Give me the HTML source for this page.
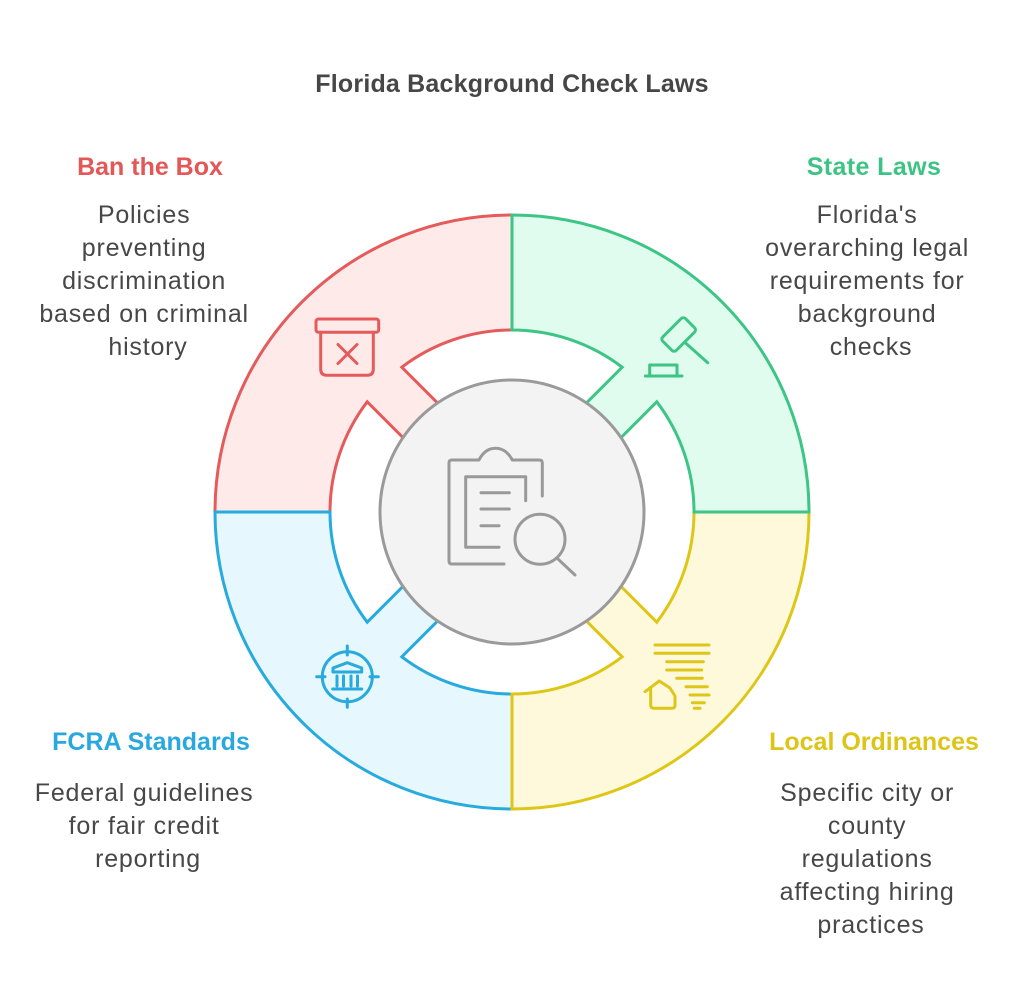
<!DOCTYPE html>
<html>
<head>
<meta charset="utf-8">
<style>
  html, body { margin: 0; padding: 0; background: #ffffff; }
  body { width: 1024px; height: 1008px; overflow: hidden; }
  svg { display: block; }
  .t { font-family: "Liberation Sans", Arial, sans-serif; font-weight: bold; font-size: 25px; }
  .b { font-family: "Liberation Sans", Arial, sans-serif; font-size: 25px; fill: #474747; letter-spacing: 0.8px; }
</style>
</head>
<body>
<svg width="1024" height="1008" viewBox="0 0 1024 1008" xmlns="http://www.w3.org/2000/svg">
  <rect width="1024" height="1008" fill="#ffffff"/>

  <!-- Title -->
  <text class="t" x="512" y="92" text-anchor="middle" fill="#464646" letter-spacing="0.2">Florida Background Check Laws</text>

  <!-- Quadrants -->
  <!-- Red (top-left) -->
  <path d="M512,215 A297,297 0 0 0 215,512 L330,512 A182,182 0 0 1 367.2,401.8 L416.9,451.5 L451.5,416.9 L401.8,367.2 A182,182 0 0 1 512,330 Z"
        fill="#FFEAEA" stroke="#E55A5A" stroke-width="3" stroke-linejoin="miter"/>
  <!-- Blue (bottom-left) -->
  <path d="M512,809 A297,297 0 0 1 215,512 L330,512 A182,182 0 0 0 367.2,622.2 L416.9,572.5 L451.5,607.1 L401.8,656.8 A182,182 0 0 0 512,694 Z"
        fill="#E6F7FD" stroke="#27AADE" stroke-width="3" stroke-linejoin="miter"/>
  <!-- Yellow (bottom-right) -->
  <path d="M512,809 A297,297 0 0 0 809,512 L694,512 A182,182 0 0 1 656.8,622.2 L607.1,572.5 L572.5,607.1 L622.2,656.8 A182,182 0 0 1 512,694 Z"
        fill="#FEF9DB" stroke="#DEC617" stroke-width="3" stroke-linejoin="miter"/>
  <!-- Green (top-right) -->
  <path d="M512,215 A297,297 0 0 1 809,512 L694,512 A182,182 0 0 0 656.8,401.8 L607.1,451.5 L572.5,416.9 L622.2,367.2 A182,182 0 0 0 512,330 Z"
        fill="#E0FCEE" stroke="#3DC586" stroke-width="3" stroke-linejoin="miter"/>

  <!-- Center circle -->
  <circle cx="512" cy="512" r="132" fill="#F3F3F3" stroke="#9A9A9A" stroke-width="3"/>

  <!-- Center icon: clipboard + magnifier -->
  <g fill="none" stroke="#999999" stroke-width="3" stroke-linecap="round" stroke-linejoin="round">
    <path d="M542.3,496 V463 Q542.3,460 539.3,460 H512.3 Q506,448.3 495.6,448.3 Q485,448.3 479,460 H452 Q449,460 449,463 V561 Q449,564 452,564 H504"/>
    <path d="M525.7,500.7 V476.7 H465.7 V547.3 H499"/>
    <line x1="481" y1="492.7" x2="509.3" y2="492.7"/>
    <line x1="481" y1="509" x2="509.3" y2="509"/>
    <line x1="481" y1="525.7" x2="499" y2="525.7"/>
    <circle cx="540" cy="539.3" r="25"/>
    <line x1="558.3" y1="559.3" x2="575" y2="575"/>
  </g>

  <!-- Red icon: box with X -->
  <g fill="none" stroke="#E55A5A" stroke-width="3" stroke-linecap="round" stroke-linejoin="round">
    <rect x="316" y="319" width="62.7" height="13.3" rx="2.5"/>
    <path d="M320.7,332.3 V369.3 Q320.7,375.3 326.7,375.3 H367.3 Q373.3,375.3 373.3,369.3 V332.3"/>
    <line x1="338" y1="344.5" x2="357" y2="363.5"/>
    <line x1="357" y1="344.5" x2="338" y2="363.5"/>
  </g>

  <!-- Green icon: gavel -->
  <g fill="none" stroke="#3DC586" stroke-width="3" stroke-linecap="round" stroke-linejoin="round">
    <rect x="662.7" y="325" width="32" height="19" rx="3" transform="rotate(-45 678.7 334.5)"/>
    <line x1="685.3" y1="342.7" x2="707.7" y2="362.7"/>
    <path d="M649.7,376 V365 H677 V376"/>
    <line x1="645.3" y1="376" x2="682" y2="376"/>
  </g>

  <!-- Yellow icon: house + lines -->
  <g fill="none" stroke="#DEC617" stroke-width="3" stroke-linecap="round" stroke-linejoin="round">
    <line x1="655" y1="645" x2="709" y2="645"/>
    <line x1="655" y1="653.3" x2="709" y2="653.3"/>
    <line x1="666.7" y1="661.7" x2="703.3" y2="661.7"/>
    <line x1="666.7" y1="670" x2="701.7" y2="670"/>
    <line x1="676.7" y1="678.3" x2="702.3" y2="678.3"/>
    <line x1="686" y1="686.7" x2="707.3" y2="686.7"/>
    <line x1="690" y1="695" x2="709" y2="695"/>
    <line x1="692.3" y1="702.7" x2="704.3" y2="702.7"/>
    <line x1="694.3" y1="708.3" x2="700" y2="708.3"/>
    <path d="M645,691.7 L659.3,681 L670,688 L675,696 V705 Q675,708.3 672,708.3 H654 Q650.7,708.3 650.7,705 V687.5"/>
  </g>

  <!-- Blue icon: building in target -->
  <g fill="none" stroke="#27AADE" stroke-width="3" stroke-linecap="round" stroke-linejoin="round">
    <circle cx="347.3" cy="676.7" r="25"/>
    <line x1="347.3" y1="646" x2="347.3" y2="655"/>
    <line x1="347.3" y1="699" x2="347.3" y2="707.3"/>
    <line x1="316.7" y1="676.7" x2="325" y2="676.7"/>
    <line x1="370" y1="676.7" x2="378.3" y2="676.7"/>
    <path d="M333,672 V668 L347.3,662.7 L361.7,668 V672 Z"/>
    <line x1="337" y1="676" x2="337" y2="686"/>
    <line x1="343.5" y1="676" x2="343.5" y2="686"/>
    <line x1="351" y1="676" x2="351" y2="686"/>
    <line x1="357.5" y1="676" x2="357.5" y2="686"/>
    <line x1="332.7" y1="689" x2="361.7" y2="689"/>
  </g>

  <!-- Ban the Box -->
  <text class="t" x="150" y="175" text-anchor="middle" fill="#E35757">Ban the Box</text>
  <text class="b" text-anchor="middle">
    <tspan x="148" y="223">Policies</tspan>
    <tspan x="148" y="256">preventing</tspan>
    <tspan x="148" y="289">discrimination</tspan>
    <tspan x="148" y="322">based on criminal</tspan>
    <tspan x="148" y="355">history</tspan>
  </text>

  <!-- State Laws -->
  <text class="t" x="874" y="175" text-anchor="middle" fill="#3DC384" letter-spacing="0.4">State Laws</text>
  <text class="b" text-anchor="middle">
    <tspan x="871" y="223">Florida's</tspan>
    <tspan x="871" y="256">overarching legal</tspan>
    <tspan x="871" y="289">requirements for</tspan>
    <tspan x="871" y="322">background</tspan>
    <tspan x="871" y="355">checks</tspan>
  </text>

  <!-- FCRA Standards -->
  <text class="t" x="151" y="750" text-anchor="middle" fill="#29A8DF">FCRA Standards</text>
  <text class="b" text-anchor="middle">
    <tspan x="148" y="801">Federal guidelines</tspan>
    <tspan x="148" y="834">for fair credit</tspan>
    <tspan x="148" y="867">reporting</tspan>
  </text>

  <!-- Local Ordinances -->
  <text class="t" x="874" y="750" text-anchor="middle" fill="#DCC516">Local Ordinances</text>
  <text class="b" text-anchor="middle">
    <tspan x="871" y="801">Specific city or</tspan>
    <tspan x="871" y="834">county</tspan>
    <tspan x="871" y="867">regulations</tspan>
    <tspan x="871" y="900">affecting hiring</tspan>
    <tspan x="871" y="933">practices</tspan>
  </text>
</svg>
</body>
</html>
